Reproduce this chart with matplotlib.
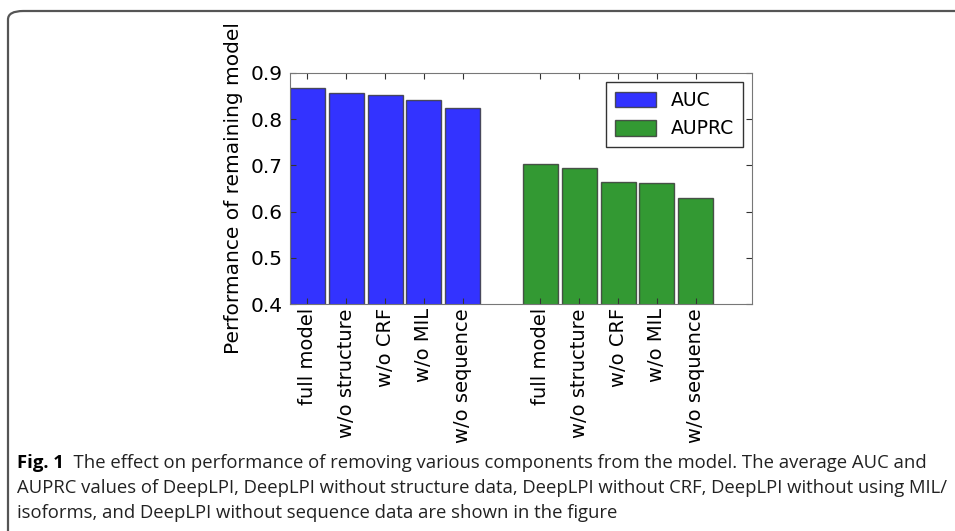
import matplotlib
matplotlib.use("Agg")
import matplotlib.pyplot as plt
from matplotlib import font_manager
from matplotlib.patches import FancyBboxPatch
import numpy as np

plt.rcParams["font.family"] = ["DejaVu Sans"]

categories = ["full model", "w/o structure", "w/o CRF", "w/o MIL", "w/o sequence"]
auc = [0.868, 0.857, 0.852, 0.841, 0.824]
auprc = [0.704, 0.694, 0.664, 0.662, 0.630]
yticks = [0.4, 0.5, 0.6, 0.7, 0.8, 0.9]

avail = {f.name for f in font_manager.fontManager.ttflist}
cap_font = next((f for f in ["Liberation Sans Narrow", "Open Sans", "Noto Sans"] if f in avail), "DejaVu Sans")

fig = plt.figure(figsize=(9.55, 5.31), dpi=100)
ax = fig.add_axes([290/955, 1-304/531, 462/955, 231/531])

pos_auc = np.arange(len(categories))
pos_auprc = pos_auc + len(categories) + 1
ax.bar(pos_auc, auc, width=0.9, color="b", alpha=0.8, edgecolor="#333333", linewidth=1, label="AUC")
ax.bar(pos_auprc, auprc, width=0.9, color="g", alpha=0.8, edgecolor="#333333", linewidth=1, label="AUPRC")
ax.set_ylim(0.4, 0.9)
ax.set_xlim(-0.45, 11.45)
ax.set_yticks(yticks)
ax.set_yticklabels([f"{v:.1f}" for v in yticks], fontsize=14.5)
ax.set_xticks(list(pos_auc) + list(pos_auprc))
ax.set_xticklabels(categories + categories, rotation=90, fontsize=14)
ax.tick_params(direction="in", top=True, right=True, length=4, color="#333333", pad=5)
ax.tick_params(axis="x", pad=3)
for s in ax.spines.values():
    s.set_color("#777777")
ax.set_ylabel("Performance of remaining model", fontsize=14.5, labelpad=6)
leg = ax.legend(loc="upper right", fontsize=13.5, fancybox=False, framealpha=1,
                edgecolor="#333333", borderpad=0.45, handlelength=2.2, handleheight=0.9,
                borderaxespad=0.5)
leg.get_frame().set_linewidth(1)

# border frame
border = FancyBboxPatch((8/955, -0.2), 1.2, (531-11)/531 + 0.2,
                        boxstyle="round,pad=0,rounding_size=0.016",
                        transform=fig.transFigure, fill=False, edgecolor="#555555",
                        linewidth=1.6)
fig.patches.append(border)

# caption
lines = [
    ("Fig. 1", "  The effect on performance of removing various components from the model. The average AUC and"),
    (None, "AUPRC values of DeepLPI, DeepLPI without structure data, DeepLPI without CRF, DeepLPI without using MIL/"),
    (None, "isoforms, and DeepLPI without sequence data are shown in the figure"),
]
ys = [463, 488, 513]
fig.canvas.draw()
r = fig.canvas.get_renderer()
for (b, rest), y in zip(lines, ys):
    x = 17
    if b:
        t = fig.text(x/955, 1-y/531, b, fontsize=13.3, fontweight="bold", family=cap_font, va="center", ha="left")
        bb = t.get_window_extent(r)
        x = bb.x1
    fig.text(x/955, 1-y/531, rest, fontsize=13.3, family=cap_font, va="center", ha="left", color="#222222")

fig.savefig("out.png", dpi=100)
